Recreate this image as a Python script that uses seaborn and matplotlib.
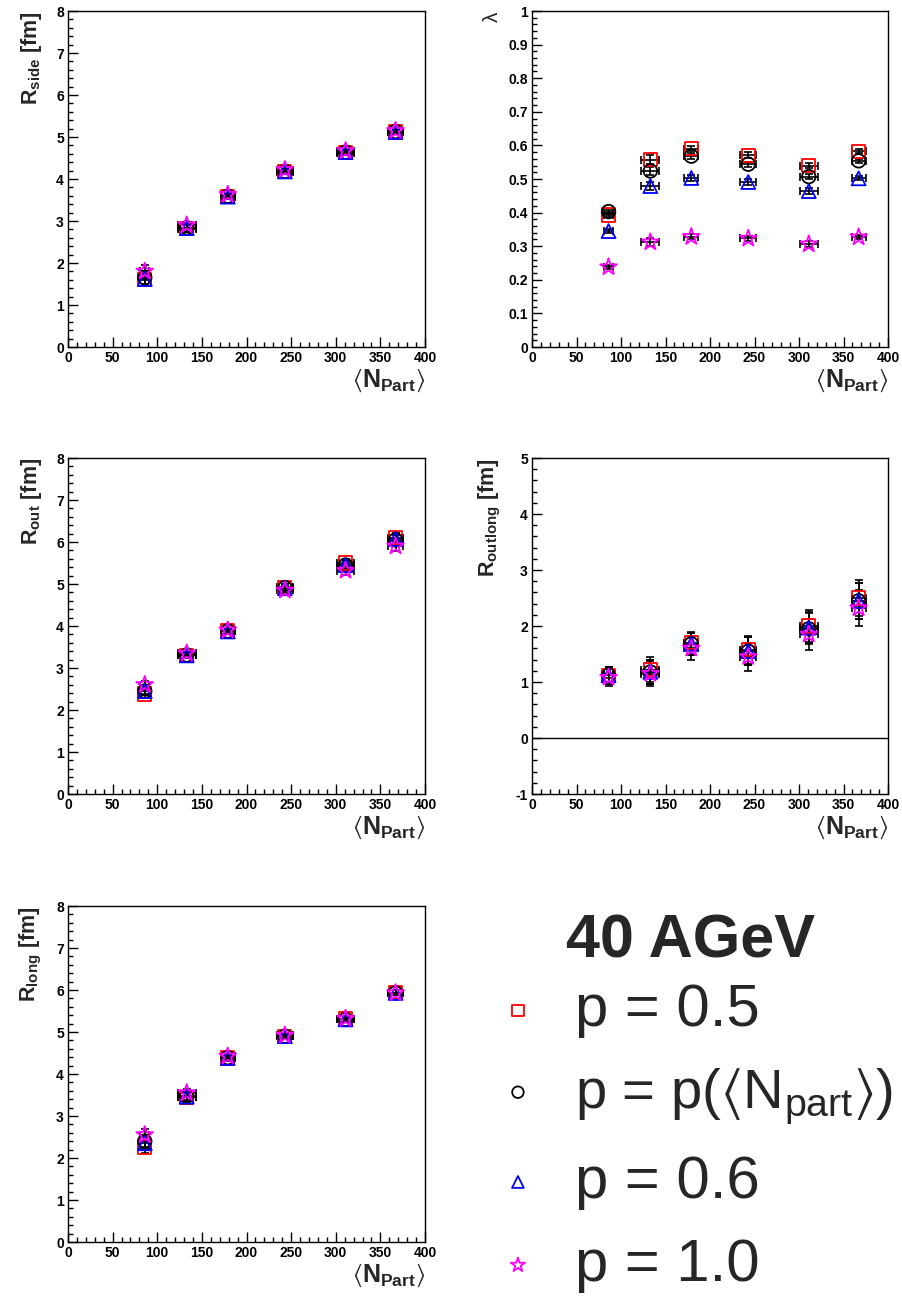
import numpy as np
import pandas as pd
import matplotlib
matplotlib.use("Agg")
import matplotlib.pyplot as plt
from matplotlib.ticker import MultipleLocator, FuncFormatter
import seaborn as sns

# ---------------- data ----------------
npart = [86, 133, 179, 243, 311, 367]
npart_err = [5, 10, 8, 9, 10, 8]

series_labels = ["p = 0.5", r"p = p($\langle$N$_{\rm part}\rangle$)", "p = 0.6", "p = 1.0"]

rside_p05 = [1.60, 2.82, 3.58, 4.17, 4.63, 5.12]
rside_pn = [1.65, 2.84, 3.59, 4.18, 4.64, 5.13]
rside_p06 = [1.62, 2.83, 3.58, 4.18, 4.64, 5.12]
rside_p10 = [1.80, 2.90, 3.63, 4.22, 4.67, 5.15]
rside_err = [0.15, 0.08, 0.06, 0.06, 0.06, 0.06]

lam_p05 = [0.393, 0.558, 0.590, 0.571, 0.540, 0.583]
lam_pn = [0.403, 0.524, 0.568, 0.544, 0.507, 0.554]
lam_p06 = [0.345, 0.479, 0.503, 0.491, 0.464, 0.502]
lam_p10 = [0.238, 0.312, 0.328, 0.323, 0.306, 0.327]
lam_err = [0.006, 0.012, 0.008, 0.008, 0.008, 0.006]

rout_p05 = [2.38, 3.30, 3.88, 4.92, 5.50, 6.10]
rout_pn = [2.45, 3.31, 3.88, 4.91, 5.45, 6.05]
rout_p06 = [2.45, 3.30, 3.87, 4.90, 5.45, 6.07]
rout_p10 = [2.60, 3.35, 3.90, 4.85, 5.32, 5.90]
rout_err = [0.10, 0.07, 0.06, 0.08, 0.10, 0.12]

rol_p05 = [1.12, 1.22, 1.70, 1.58, 2.00, 2.50]
rol_pn = [1.12, 1.18, 1.68, 1.55, 1.95, 2.45]
rol_p06 = [1.12, 1.18, 1.68, 1.55, 1.97, 2.45]
rol_p10 = [1.08, 1.15, 1.60, 1.45, 1.85, 2.32]
rol_err = [0.15, 0.22, 0.20, 0.25, 0.28, 0.32]

rlong_p05 = [2.26, 3.45, 4.38, 4.90, 5.31, 5.94]
rlong_pn = [2.40, 3.47, 4.39, 4.90, 5.30, 5.93]
rlong_p06 = [2.35, 3.46, 4.38, 4.90, 5.30, 5.93]
rlong_p10 = [2.55, 3.55, 4.42, 4.92, 5.32, 5.93]
rlong_err = [0.15, 0.10, 0.06, 0.06, 0.06, 0.06]

colors = ["#ff0000", "#000000", "#0000ff", "#ff00ff"]
markers = ["s", "o", "^", "*"]
msizes = [90, 95, 100, 160]

# ---------------- style ----------------
sns.set_theme(style="ticks")
plt.rcParams["font.family"] = ["Liberation Sans", "DejaVu Sans"]
plt.rcParams["mathtext.fontset"] = "custom"
plt.rcParams["mathtext.rm"] = "Liberation Sans"
plt.rcParams["mathtext.bf"] = "Liberation Sans:bold"
plt.rcParams["mathtext.it"] = "Liberation Sans:italic"
plt.rcParams["mathtext.fallback"] = "stixsans"
plt.rcParams["axes.linewidth"] = 1.0
plt.rcParams["axes.edgecolor"] = "black"

fig = plt.figure(figsize=(9.02, 12.98), dpi=100)
W, H = 902, 1298

fmt = FuncFormatter(lambda v, p: ("%g" % round(v, 6)))


def make_ax(x0, ytop, w=357, h=336):
    return fig.add_axes([x0 / W, 1 - (ytop + h) / H, w / W, h / H])


def style_ax(ax, ylim, ymaj, ymin, ylabel, ylabel_bold=True):
    ax.set_xlim(0, 400)
    ax.set_ylim(*ylim)
    ax.xaxis.set_major_locator(MultipleLocator(50))
    ax.xaxis.set_minor_locator(MultipleLocator(10))
    ax.yaxis.set_major_locator(MultipleLocator(ymaj))
    ax.yaxis.set_minor_locator(MultipleLocator(ymin))
    ax.xaxis.set_major_formatter(fmt)
    ax.yaxis.set_major_formatter(fmt)
    ax.tick_params(which="both", direction="in", top=False, right=False,
                   colors="black", width=1.0, labelsize=10, pad=3)
    ax.tick_params(which="major", length=7)
    ax.tick_params(which="minor", length=3.5)
    for lab in ax.get_xticklabels() + ax.get_yticklabels():
        lab.set_fontweight("bold")
    for sp in ax.spines.values():
        sp.set_visible(True)
        sp.set_color("black")
        sp.set_linewidth(1.0)
    ax.set_xlabel(r"$\left\langle\mathbf{N_{Part}}\right\rangle$", loc="right",
                  fontsize=18, labelpad=2)
    if ylabel_bold:
        ax.set_ylabel(ylabel, loc="top", fontsize=15.5, fontweight="bold", labelpad=9)
    else:
        ax.set_ylabel(ylabel, loc="top", fontsize=15, labelpad=5)
    ax.grid(False)


def draw_panel(ax, ys, yerr):
    for y in ys:
        ax.errorbar(npart, y, xerr=npart_err, yerr=yerr, fmt="none", ecolor="black",
                    elinewidth=1.2, capsize=3, capthick=1.2, zorder=2)
    for y, c, m, s, lab in zip(ys, colors, markers, msizes, series_labels):
        df = pd.DataFrame({"x": npart, "y": y})
        sns.scatterplot(data=df, x="x", y="y", ax=ax, marker=m, s=s, color=c,
                        facecolor="none", edgecolor=c, linewidth=1.3, label=lab,
                        legend=False, zorder=3)
    return ax.collections[-4:]


ax1 = make_ax(68, 11)
draw_panel(ax1, [rside_p05, rside_pn, rside_p06, rside_p10], rside_err)
style_ax(ax1, (0, 8), 1, 0.2, r"$\mathbf{R_{side}}$ [fm]")

ax2 = make_ax(532, 11, w=356)
draw_panel(ax2, [lam_p05, lam_pn, lam_p06, lam_p10], lam_err)
style_ax(ax2, (0, 1), 0.1, 0.02, "λ", ylabel_bold=False)

ax3 = make_ax(68, 458)
draw_panel(ax3, [rout_p05, rout_pn, rout_p06, rout_p10], rout_err)
style_ax(ax3, (0, 8), 1, 0.2, r"$\mathbf{R_{out}}$ [fm]")

ax4 = make_ax(532, 458, w=356)
draw_panel(ax4, [rol_p05, rol_pn, rol_p06, rol_p10], rol_err)
ax4.axhline(0, color="black", lw=1.0, zorder=1)
style_ax(ax4, (-1, 5), 1, 0.2, r"$\mathbf{R_{outlong}}$ [fm]")

ax5 = make_ax(68, 906)
handles = draw_panel(ax5, [rlong_p05, rlong_pn, rlong_p06, rlong_p10], rlong_err)
style_ax(ax5, (0, 8), 1, 0.2, r"$\mathbf{R_{long}}$ [fm]")

leg = fig.legend(handles, series_labels, loc="upper left",
                 bbox_to_anchor=(506 / W, 1 - 983 / H), frameon=False,
                 fontsize=43, handlelength=0.4, handletextpad=0.75,
                 labelspacing=0.47, borderpad=0, borderaxespad=0,
                 scatterpoints=1, markerscale=0.85)
leg.get_texts()[1].set_fontsize(40.5)
fig.text(691 / W, 1 - 958 / H, "40 AGeV", fontsize=44, fontweight="bold",
         ha="center", va="baseline")

fig.savefig("out.png", dpi=100)
